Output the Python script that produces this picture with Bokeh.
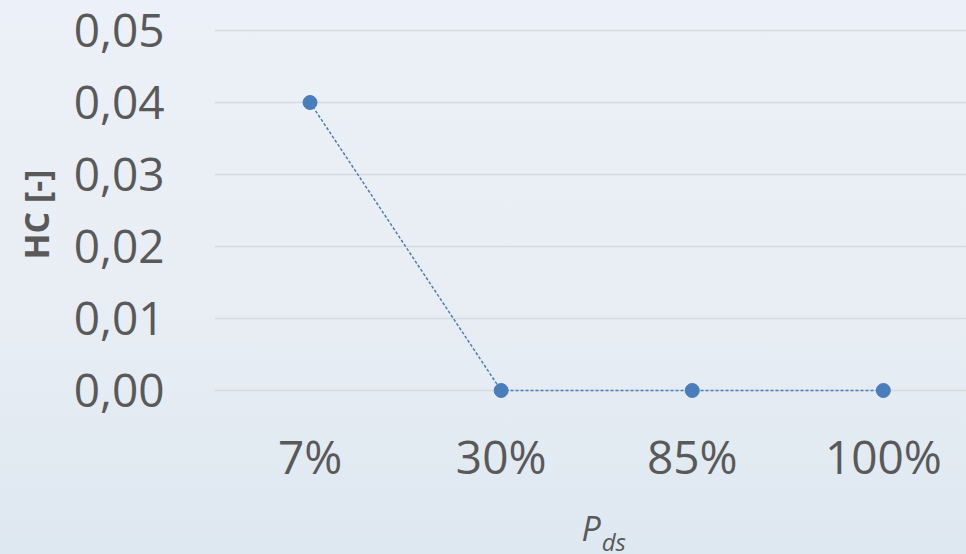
from bokeh.plotting import figure
from bokeh.models import Range1d, FixedTicker, Label
from bokeh.layouts import column
from bokeh.core.properties import value
from bokeh.embed import file_html
from bokeh.resources import INLINE

categories = ["7%", "30%", "85%", "100%"]
hc_values = [0.04, 0.0, 0.0, 0.0]
y_ticks = [0.0, 0.01, 0.02, 0.03, 0.04, 0.05]
y_tick_labels = ["0,00", "0,01", "0,02", "0,03", "0,04", "0,05"]

xs = list(range(len(categories)))
TEXT = "#595959"
BLUE = "#4a7dbb"

x_range = Range1d(-0.5, 3.435)

# ---- main chart (upper part) ----
p = figure(width=966, height=424, output_backend="svg", toolbar_location=None,
           x_range=x_range, y_range=Range1d(-18 / 7200, 0.05 + 10 / 7200),
           min_border_left=214, min_border_right=0, min_border_top=20, min_border_bottom=16)
p.background_fill_alpha = 0
p.border_fill_alpha = 0
p.outline_line_color = None

p.xaxis.visible = False
p.xgrid.grid_line_color = None
p.ygrid.grid_line_color = "#d6d9de"
p.ygrid.grid_line_width = 1.6
p.yaxis.ticker = FixedTicker(ticks=y_ticks)
p.yaxis.major_label_overrides = dict(zip(y_ticks, y_tick_labels))

ax = p.yaxis[0]
ax.axis_line_color = None
ax.major_tick_line_color = None
ax.minor_tick_line_color = None
ax.major_label_text_font = "Open Sans"
ax.major_label_text_font_size = "46px"
ax.major_label_text_color = TEXT
ax.major_label_standoff = 44
ax.axis_label = "HC [-]"
ax.axis_label_text_font = "Open Sans"
ax.axis_label_text_font_style = "bold"
ax.axis_label_text_font_size = "34px"
ax.axis_label_text_color = TEXT
ax.axis_label_standoff = 12

p.line(xs, hc_values, line_color=BLUE, line_width=1.5, line_dash="3 2")
p.scatter(xs, hc_values, size=14, fill_color=BLUE, line_color=BLUE)

# ---- category labels and axis title (lower strip, same x scale) ----
p2 = figure(width=966, height=130, output_backend="svg", toolbar_location=None,
            x_range=x_range, y_range=Range1d(0, 130),
            min_border_left=214, min_border_right=0, min_border_top=0, min_border_bottom=0)
p2.background_fill_alpha = 0
p2.border_fill_alpha = 0
p2.outline_line_color = None
p2.axis.visible = False
p2.grid.visible = False

p2.text(xs, [99] * len(xs), text=categories, text_font=value("Open Sans"),
        text_font_size="46px", text_color=TEXT, text_align="center",
        text_baseline="alphabetic")

lab_p = Label(x=1.5, y=27, x_offset=4, text="P", text_font="Open Sans",
              text_font_style="italic", text_font_size="34px", text_color=TEXT,
              text_align="right", text_baseline="alphabetic")
lab_ds = Label(x=1.5, y=13, x_offset=5, text="ds", text_font="Open Sans",
               text_font_style="italic", text_font_size="24px", text_color=TEXT,
               text_align="left", text_baseline="alphabetic")
p2.add_layout(lab_p)
p2.add_layout(lab_ds)

layout = column(p, p2, spacing=0)
layout.styles = {"background": "linear-gradient(180deg, #ecf0f8 0%, #e9eef4 50%, #dee8f1 100%)"}

open("out.html", "w").write(file_html(layout, INLINE))
